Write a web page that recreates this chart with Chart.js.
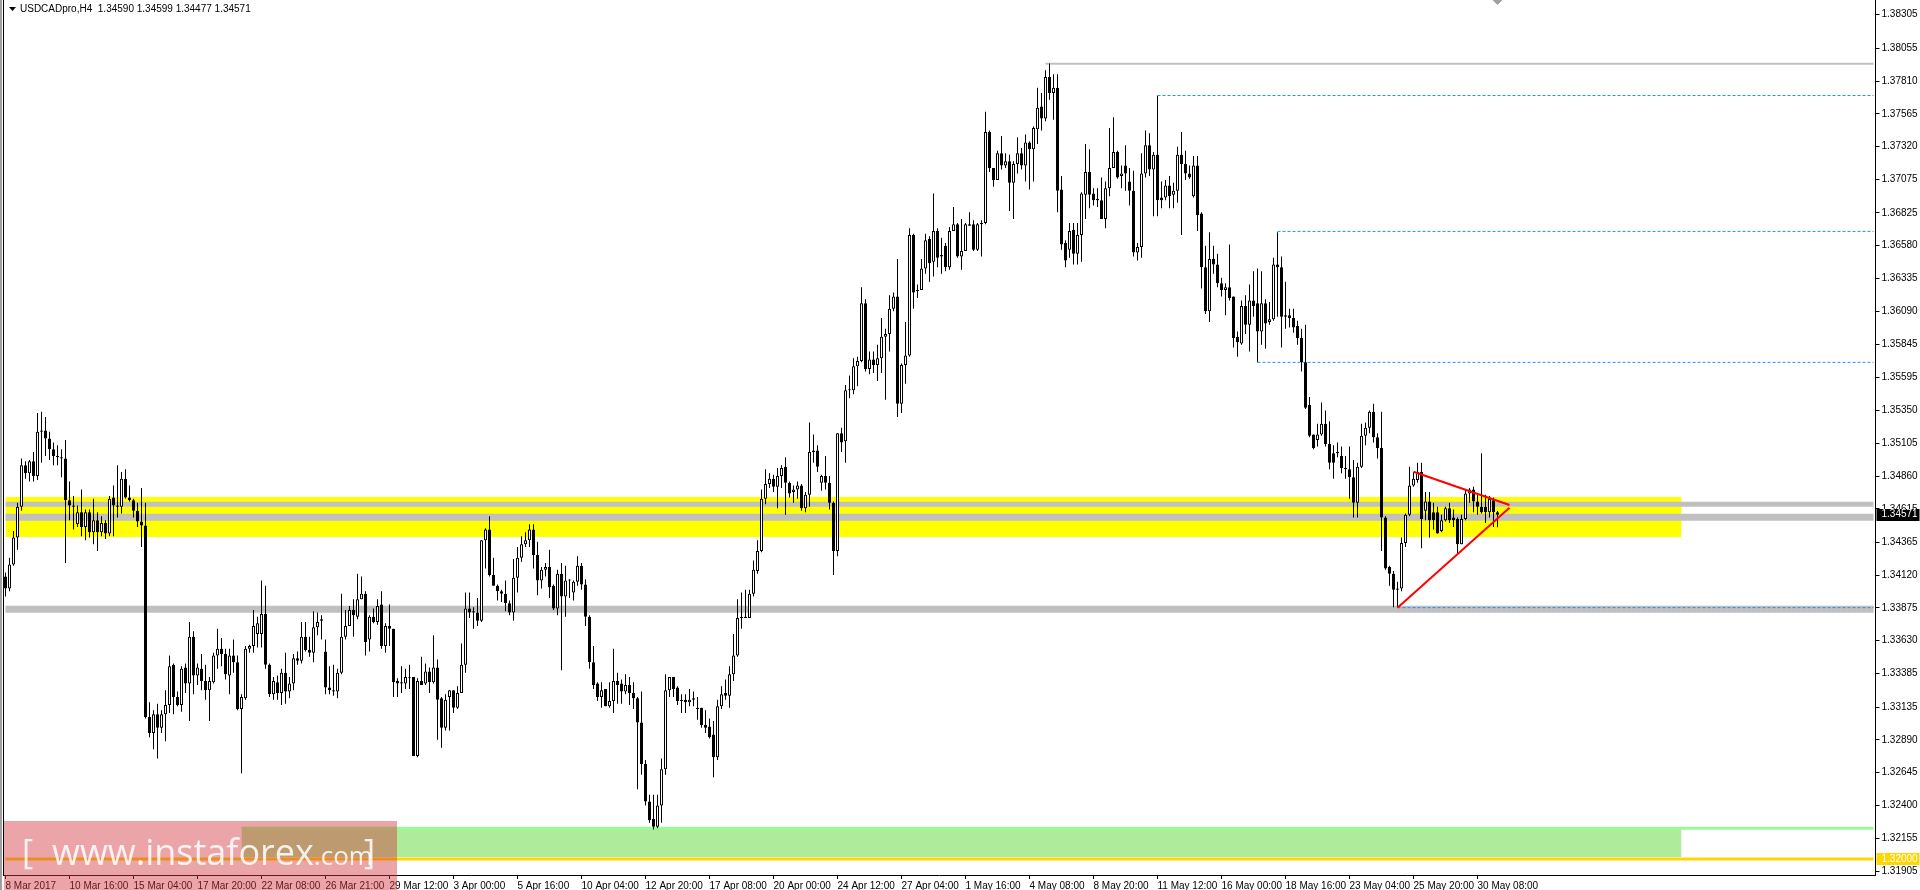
<!DOCTYPE html>
<html>
<head>
<meta charset="utf-8">
<title>USDCADpro,H4</title>
<script src="https://cdn.jsdelivr.net/npm/chart.js@4.4.1/dist/chart.umd.min.js"></script>
<style>
html, body { margin: 0; padding: 0; background: #fff; overflow: hidden; }
</style>
</head>
<body>
<canvas id="grafico" width="1920" height="890"></canvas>
<script>
// Velas H4 USDCAD (8 Mar - 31 May 2017)
const titulo = 'USDCADpro,H4  1.34590 1.34599 1.34477 1.34571';

const etiquetasTiempo = ['8 Mar 2017', '10 Mar 16:00', '15 Mar 04:00', '17 Mar 20:00', '22 Mar 08:00',
    '26 Mar 21:00', '29 Mar 12:00', '3 Apr 00:00', '5 Apr 16:00', '10 Apr 04:00', '12 Apr 20:00',
    '17 Apr 08:00', '20 Apr 00:00', '24 Apr 12:00', '27 Apr 04:00', '1 May 16:00', '4 May 08:00',
    '8 May 20:00', '11 May 12:00', '16 May 00:00', '18 May 16:00', '23 May 04:00', '25 May 20:00',
    '30 May 08:00'];

const etiquetasPrecio = [1.38305, 1.38055, 1.37810, 1.37565, 1.37320, 1.37075, 1.36825, 1.36580,
    1.36335, 1.36090, 1.35845, 1.35595, 1.35350, 1.35105, 1.34860, 1.34615, 1.34365, 1.34120,
    1.33875, 1.33630, 1.33385, 1.33135, 1.32890, 1.32645, 1.32400, 1.32155, 1.31905];

const aperturas = [
    1.3411,1.3402,1.3420,1.3440,1.3463,1.3494,1.3488,1.3497,1.3486,1.3519,
    1.3520,1.3514,1.3506,1.3501,1.3500,1.3499,1.3468,1.3464,1.3450,1.3459,
    1.3448,1.3459,1.3444,1.3453,1.3444,1.3451,1.3443,1.3470,1.3464,1.3463,
    1.3484,1.3470,1.3468,1.3460,1.3452,1.3449,1.3306,1.3294,1.3308,1.3298,
    1.3308,1.3315,1.3345,1.3321,1.3315,1.3343,1.3331,1.3366,1.3337,1.3342,
    1.3333,1.3326,1.3332,1.3352,1.3357,1.3353,1.3337,1.3352,1.3347,1.3312,
    1.3320,1.3357,1.3359,1.3368,1.3368,1.3383,1.3345,1.3323,1.3332,1.3324,
    1.3339,1.3325,1.3331,1.3350,1.3348,1.3366,1.3356,1.3354,1.3373,1.3379,
    1.3355,1.3328,1.3326,1.3325,1.3339,1.3366,1.3374,1.3386,1.3381,1.3394,
    1.3398,1.3364,1.3381,1.3377,1.3390,1.3359,1.3374,1.3372,1.3333,1.3332,
    1.3331,1.3335,1.3336,1.3277,1.3333,1.3331,1.3340,1.3332,1.3343,1.3320,
    1.3298,1.3321,1.3326,1.3313,1.3324,1.3345,1.3387,1.3385,1.3384,1.3378,
    1.3438,1.3446,1.3412,1.3404,1.3400,1.3398,1.3391,1.3384,1.3410,1.3425,
    1.3435,1.3438,1.3446,1.3427,1.3408,1.3416,1.3418,1.3404,1.3387,1.3413,
    1.3396,1.3408,1.3399,1.3407,1.3419,1.3405,1.3381,1.3347,1.3331,1.3321,
    1.3327,1.3314,1.3318,1.3333,1.3331,1.3325,1.3330,1.3324,1.3320,1.3302,
    1.3271,1.3243,1.3230,1.3224,1.3240,1.3267,1.3326,1.3336,1.3328,1.3319,
    1.3319,1.3317,1.3320,1.3312,1.3313,1.3300,1.3299,1.3293,1.3276,1.3314,
    1.3324,1.3322,1.3338,1.3352,1.3380,1.3380,1.3380,1.3398,1.3415,1.3430,
    1.3469,1.3480,1.3484,1.3478,1.3486,1.3493,1.3481,1.3474,1.3476,1.3479,
    1.3462,1.3472,1.3504,1.3505,1.3481,1.3486,1.3481,1.3466,1.3430,1.3518,
    1.3512,1.3550,1.3550,1.3568,1.3572,1.3615,1.3566,1.3573,1.3569,1.3574,
    1.3590,1.3592,1.3611,1.3620,1.3540,1.3569,1.3576,1.3666,1.3624,1.3625,
    1.3641,1.3663,1.3646,1.3669,1.3651,1.3658,1.3642,1.3669,1.3674,1.3650,
    1.3654,1.3674,1.3674,1.3655,1.3674,1.3675,1.3743,1.3716,1.3707,1.3727,
    1.3718,1.3721,1.3705,1.3719,1.3727,1.3718,1.3735,1.3730,1.3745,1.3762,
    1.3753,1.3784,1.3772,1.3776,1.3700,1.3660,1.3655,1.3670,1.3652,1.3666,
    1.3696,1.3713,1.3697,1.3693,1.3692,1.3678,1.3701,1.3716,1.3728,1.3710,
    1.3718,1.3706,1.3699,1.3653,1.3657,1.3712,1.3733,1.3715,1.3726,1.3694,
    1.3694,1.3703,1.3696,1.3699,1.3726,1.3719,1.3712,1.3695,1.3718,1.3682,
    1.3642,1.3609,1.3648,1.3644,1.3630,1.3625,1.3627,1.3620,1.3590,1.3585,
    1.3613,1.3599,1.3617,1.3615,1.3594,1.3615,1.3601,1.3603,1.3644,1.3642,
    1.3606,1.3606,1.3604,1.3598,1.3589,1.3571,1.3539,1.3517,1.3513,1.3517,
    1.3525,1.3510,1.3503,1.3504,1.3501,1.3492,1.3491,1.3485,1.3466,1.3493,
    1.3516,1.3522,1.3534,1.3515,1.3507,1.3455,1.3418,1.3413,1.3401,1.3402,
    1.3436,1.3457,1.3479,1.3483,1.3489,1.3460,1.3467,1.3459,1.3459,1.3445,
    1.3453,1.3462,1.3455,1.3454,1.3435,1.3454,1.3473,1.3476,1.3467,1.3463,
    1.3463,1.3459,1.3468,1.34590];

const maximos = [
    1.3414,1.3425,1.3445,1.3466,1.3499,1.3497,1.3498,1.3504,1.3533,1.3534,
    1.3530,1.3519,1.3511,1.3509,1.3506,1.3513,1.3482,1.3471,1.3464,1.3476,
    1.3461,1.3461,1.3469,1.3459,1.3456,1.3453,1.3471,1.3479,1.3494,1.3489,
    1.3491,1.3479,1.3469,1.3466,1.3477,1.3466,1.3317,1.3311,1.3316,1.3311,
    1.3326,1.3352,1.3346,1.3325,1.3344,1.3346,1.3377,1.3370,1.3346,1.3353,
    1.3345,1.3336,1.3354,1.3372,1.3365,1.3357,1.3357,1.3364,1.3352,1.3323,
    1.3359,1.3360,1.3386,1.3381,1.3408,1.3404,1.3346,1.3336,1.3337,1.3342,
    1.3354,1.3336,1.3353,1.3355,1.3377,1.3377,1.3366,1.3385,1.3384,1.3382,
    1.3364,1.3344,1.3345,1.3342,1.3398,1.3386,1.3389,1.3394,1.3413,1.3411,
    1.3400,1.3382,1.3387,1.3394,1.3400,1.3376,1.3390,1.3372,1.3335,1.3344,
    1.3342,1.3345,1.3336,1.3335,1.3351,1.3346,1.3343,1.3367,1.3349,1.3321,
    1.3323,1.3326,1.3326,1.3329,1.3361,1.3399,1.3399,1.3388,1.3395,1.3438,
    1.3447,1.3456,1.3425,1.3405,1.3401,1.3408,1.3393,1.3424,1.3433,1.3441,
    1.3444,1.3450,1.3450,1.3437,1.3418,1.3421,1.3431,1.3405,1.3416,1.3421,
    1.3419,1.3409,1.3408,1.3426,1.3421,1.3409,1.3382,1.3359,1.3332,1.3332,
    1.3327,1.3332,1.3357,1.3339,1.3334,1.3338,1.3336,1.3332,1.3321,1.3325,
    1.3274,1.3248,1.3248,1.3248,1.3275,1.3338,1.3336,1.3336,1.3329,1.3323,
    1.3323,1.3327,1.3325,1.3321,1.3313,1.3311,1.3305,1.3303,1.3319,1.3329,
    1.3334,1.3344,1.3368,1.3394,1.3399,1.3401,1.3401,1.3423,1.3438,1.3476,
    1.3491,1.3488,1.3487,1.3492,1.3494,1.3500,1.3482,1.3479,1.3482,1.3480,
    1.3474,1.3526,1.3517,1.3509,1.3487,1.3501,1.3486,1.3467,1.3518,1.3522,
    1.3554,1.3561,1.3574,1.3575,1.3627,1.3618,1.3579,1.3579,1.3584,1.3604,
    1.3596,1.3621,1.3623,1.3648,1.3570,1.3601,1.3671,1.3667,1.3629,1.3648,
    1.3667,1.3665,1.3697,1.3671,1.3664,1.3660,1.3672,1.3687,1.3675,1.3678,
    1.3675,1.3683,1.3677,1.3675,1.3677,1.3758,1.3744,1.3716,1.3729,1.3740,
    1.3727,1.3726,1.3721,1.3739,1.3731,1.3741,1.3736,1.3747,1.3776,1.3772,
    1.3789,1.3794,1.3786,1.3786,1.3710,1.3662,1.3675,1.3675,1.3675,1.3698,
    1.3734,1.3730,1.3701,1.3701,1.3709,1.3706,1.3746,1.3754,1.3729,1.3718,
    1.3733,1.3716,1.3714,1.3660,1.3727,1.3744,1.3742,1.3728,1.3770,1.3706,
    1.3707,1.3710,1.3705,1.3732,1.3743,1.3729,1.3718,1.3725,1.3725,1.3683,
    1.3658,1.3668,1.3658,1.3652,1.3634,1.3630,1.3659,1.3620,1.3594,1.3617,
    1.3621,1.3629,1.3639,1.3641,1.3639,1.3618,1.3616,1.3649,1.3668,1.3650,
    1.3631,1.3611,1.3611,1.3602,1.3596,1.3599,1.3545,1.3517,1.3525,1.3541,
    1.3535,1.3527,1.3509,1.3511,1.3508,1.3501,1.3508,1.3498,1.3496,1.3525,
    1.3526,1.3535,1.3540,1.3518,1.3534,1.3456,1.3419,1.3415,1.3407,1.3440,
    1.3458,1.3493,1.3489,1.3496,1.3496,1.3474,1.3474,1.3466,1.3463,1.3457,
    1.3463,1.3466,1.3461,1.3455,1.3457,1.3476,1.3477,1.3478,1.3472,1.3503,
    1.3472,1.3471,1.3470,1.34599];

const minimos = [
    1.3396,1.3400,1.3419,1.3431,1.3460,1.3484,1.3482,1.3482,1.3483,1.3496,
    1.3501,1.3498,1.3494,1.3494,1.3485,1.3421,1.3453,1.3446,1.3448,1.3441,
    1.3438,1.3440,1.3435,1.3430,1.3441,1.3439,1.3441,1.3441,1.3455,1.3458,
    1.3469,1.3467,1.3455,1.3448,1.3433,1.3305,1.3291,1.3282,1.3275,1.3294,
    1.3288,1.3309,1.3308,1.3314,1.3310,1.3324,1.3303,1.3323,1.3330,1.3326,
    1.3319,1.3303,1.3331,1.3342,1.3344,1.3334,1.3323,1.3339,1.3311,1.3264,
    1.3319,1.3354,1.3354,1.3358,1.3358,1.3342,1.3321,1.3319,1.3319,1.3315,
    1.3316,1.3320,1.3326,1.3345,1.3346,1.3355,1.3351,1.3347,1.3367,1.3364,
    1.3323,1.3323,1.3322,1.3320,1.3338,1.3364,1.3374,1.3366,1.3379,1.3394,
    1.3352,1.3355,1.3376,1.3375,1.3357,1.3354,1.3359,1.3321,1.3321,1.3324,
    1.3327,1.3327,1.3277,1.3276,1.3330,1.3330,1.3324,1.3331,1.3289,1.3283,
    1.3296,1.3296,1.3309,1.3312,1.3324,1.3339,1.3380,1.3372,1.3374,1.3377,
    1.3417,1.3411,1.3404,1.3393,1.3392,1.3385,1.3382,1.3378,1.3399,1.3422,
    1.3433,1.3433,1.3417,1.3397,1.3402,1.3411,1.3395,1.3386,1.3382,1.3341,
    1.3381,1.3395,1.3393,1.3404,1.3401,1.3374,1.3342,1.3327,1.3318,1.3313,
    1.3314,1.3313,1.3309,1.3316,1.3316,1.3323,1.3315,1.3312,1.3252,1.3263,
    1.3240,1.3227,1.3222,1.3223,1.3227,1.3263,1.3321,1.3321,1.3315,1.3309,
    1.3309,1.3314,1.3314,1.3304,1.3298,1.3294,1.3290,1.3261,1.3274,1.3312,
    1.3319,1.3313,1.3333,1.3351,1.3372,1.3380,1.3380,1.3396,1.3413,1.3429,
    1.3465,1.3477,1.3474,1.3462,1.3477,1.3457,1.3470,1.3466,1.3469,1.3460,
    1.3459,1.3463,1.3496,1.3489,1.3475,1.3476,1.3461,1.3412,1.3426,1.3504,
    1.3496,1.3544,1.3547,1.3553,1.3571,1.3564,1.3562,1.3563,1.3557,1.3563,
    1.3543,1.3579,1.3609,1.3530,1.3533,1.3555,1.3575,1.3611,1.3619,1.3625,
    1.3637,1.3631,1.3635,1.3642,1.3637,1.3639,1.3640,1.3669,1.3649,1.3640,
    1.3654,1.3673,1.3654,1.3654,1.3650,1.3674,1.3713,1.3702,1.3707,1.3715,
    1.3716,1.3684,1.3678,1.3712,1.3715,1.3706,1.3700,1.3706,1.3734,1.3744,
    1.3751,1.3767,1.3752,1.3683,1.3655,1.3642,1.3649,1.3644,1.3644,1.3646,
    1.3678,1.3686,1.3688,1.3687,1.3678,1.3671,1.3695,1.3716,1.3708,1.3701,
    1.3699,1.3688,1.3650,1.3647,1.3649,1.3709,1.3710,1.3680,1.3680,1.3686,
    1.3692,1.3686,1.3686,1.3690,1.3666,1.3707,1.3708,1.3694,1.3669,1.3626,
    1.3607,1.3601,1.3637,1.3627,1.3620,1.3606,1.3617,1.3582,1.3575,1.3584,
    1.3592,1.3579,1.3605,1.3571,1.3584,1.3581,1.3599,1.3602,1.3605,1.3582,
    1.3596,1.3597,1.3593,1.3584,1.3564,1.3536,1.3515,1.3506,1.3508,1.3516,
    1.3508,1.3491,1.3484,1.3500,1.3488,1.3484,1.3469,1.3455,1.3455,1.3492,
    1.3509,1.3518,1.3511,1.3499,1.3430,1.3416,1.3404,1.3388,1.3388,1.3400,
    1.3433,1.3456,1.3478,1.3481,1.3432,1.3453,1.3440,1.3446,1.3443,1.3444,
    1.3452,1.3451,1.3448,1.3428,1.3435,1.3453,1.3466,1.3459,1.3457,1.3458,
    1.3451,1.3455,1.3448,1.34477];

const cierres = [
    1.3402,1.3420,1.3440,1.3463,1.3494,1.3488,1.3497,1.3486,1.3519,1.3520,
    1.3514,1.3506,1.3501,1.3500,1.3499,1.3468,1.3464,1.3463,1.3459,1.3448,
    1.3459,1.3444,1.3453,1.3444,1.3451,1.3443,1.3469,1.3464,1.3463,1.3484,
    1.3470,1.3468,1.3460,1.3452,1.3449,1.3306,1.3294,1.3308,1.3298,1.3308,
    1.3315,1.3344,1.3321,1.3315,1.3342,1.3331,1.3366,1.3337,1.3343,1.3333,
    1.3326,1.3333,1.3352,1.3357,1.3353,1.3338,1.3352,1.3347,1.3312,1.3321,
    1.3357,1.3359,1.3374,1.3376,1.3383,1.3345,1.3323,1.3333,1.3324,1.3339,
    1.3325,1.3331,1.3350,1.3348,1.3366,1.3356,1.3354,1.3373,1.3377,1.3378,
    1.3328,1.3326,1.3325,1.3339,1.3366,1.3374,1.3386,1.3382,1.3394,1.3398,
    1.3362,1.3381,1.3377,1.3389,1.3359,1.3374,1.3372,1.3332,1.3331,1.3331,
    1.3336,1.3335,1.3277,1.3333,1.3330,1.3340,1.3332,1.3343,1.3319,1.3298,
    1.3319,1.3326,1.3313,1.3324,1.3345,1.3387,1.3384,1.3384,1.3378,1.3438,
    1.3446,1.3412,1.3404,1.3400,1.3398,1.3391,1.3384,1.3410,1.3425,1.3435,
    1.3438,1.3446,1.3427,1.3408,1.3416,1.3418,1.3403,1.3387,1.3413,1.3396,
    1.3408,1.3408,1.3407,1.3419,1.3405,1.3381,1.3347,1.3330,1.3321,1.3326,
    1.3314,1.3318,1.3333,1.3330,1.3325,1.3330,1.3324,1.3320,1.3302,1.3271,
    1.3243,1.3229,1.3224,1.3240,1.3267,1.3326,1.3336,1.3327,1.3318,1.3318,
    1.3317,1.3319,1.3319,1.3312,1.3300,1.3298,1.3291,1.3276,1.3314,1.3323,
    1.3322,1.3338,1.3352,1.3380,1.3380,1.3381,1.3398,1.3416,1.3430,1.3469,
    1.3480,1.3484,1.3478,1.3486,1.3492,1.3481,1.3473,1.3476,1.3479,1.3462,
    1.3472,1.3504,1.3505,1.3493,1.3486,1.3481,1.3466,1.3430,1.3518,1.3511,
    1.3550,1.3550,1.3568,1.3572,1.3615,1.3566,1.3573,1.3569,1.3574,1.3590,
    1.3592,1.3611,1.3620,1.3540,1.3569,1.3576,1.3666,1.3623,1.3625,1.3641,
    1.3662,1.3645,1.3669,1.3649,1.3650,1.3642,1.3669,1.3674,1.3650,1.3654,
    1.3674,1.3673,1.3655,1.3674,1.3675,1.3743,1.3716,1.3707,1.3727,1.3718,
    1.3721,1.3705,1.3719,1.3727,1.3718,1.3735,1.3730,1.3746,1.3761,1.3753,
    1.3784,1.3772,1.3776,1.3699,1.3659,1.3647,1.3669,1.3652,1.3666,1.3697,
    1.3713,1.3696,1.3692,1.3692,1.3678,1.3701,1.3716,1.3728,1.3709,1.3712,
    1.3712,1.3699,1.3653,1.3657,1.3712,1.3733,1.3715,1.3726,1.3692,1.3692,
    1.3703,1.3695,1.3699,1.3726,1.3719,1.3712,1.3709,1.3718,1.3681,1.3642,
    1.3609,1.3648,1.3644,1.3630,1.3625,1.3627,1.3619,1.3589,1.3586,1.3613,
    1.3599,1.3617,1.3613,1.3594,1.3615,1.3600,1.3603,1.3644,1.3642,1.3605,
    1.3605,1.3604,1.3597,1.3589,1.3571,1.3537,1.3516,1.3507,1.3517,1.3525,
    1.3510,1.3496,1.3496,1.3503,1.3492,1.3491,1.3485,1.3466,1.3493,1.3516,
    1.3522,1.3534,1.3515,1.3507,1.3455,1.3417,1.3413,1.3401,1.3402,1.3436,
    1.3457,1.3479,1.3484,1.3489,1.3454,1.3467,1.3453,1.3453,1.3443,1.3453,
    1.3462,1.3453,1.3453,1.3435,1.3454,1.3473,1.3476,1.3467,1.3463,1.3459,
    1.3459,1.3469,1.3459,1.34571];

// Objetos del grafico (barra, precio)
const bandaAmarilla = [1.34703, 1.34405];
const bandaVerde = [1.32239, 1.32015];
const lineaVerde = 1.32229;
const nivelDorado = 1.32000;
const nivelesGrises = [1.34649, 1.34552, 1.33865];
const maximoMayo = 1.37939;
const nivelesPunteados = [1.37702, 1.36687, 1.35709, 1.33877];
const barrasPunteadas = [288, 318, 313, 348];
const trianguloSuperior = [[352, 1.34892], [376, 1.34644]];
const trianguloInferior = [[348, 1.33877], [376, 1.34624]];

const totalBarras = 468;
const ultima = totalBarras - 1;
const fuente = "'Liberation Sans', Arial, sans-serif";

function indices() {
    return Array.from({length: totalBarras}, (_, i) => i);
}

function linea(puntos, color, grosor, guiones, orden) {
    return {
        type: 'line',
        data: puntos.map(p => ({x: p[0], y: p[1]})),
        borderColor: color,
        borderWidth: grosor,
        borderDash: guiones,
        pointRadius: 0,
        fill: false,
        order: orden
    };
}

function horizontal(desde, precio, color, grosor, guiones, orden) {
    return linea([[desde, precio], [ultima, precio]], color, grosor, guiones, orden);
}

function banda(desde, hasta, precios, color, orden) {
    return {
        type: 'line',
        data: [{x: desde, y: precios[0]}, {x: hasta, y: precios[0]}],
        borderWidth: 0,
        borderColor: 'rgba(0,0,0,0)',
        pointRadius: 0,
        fill: {value: precios[1]},
        backgroundColor: color,
        order: orden
    };
}

function etiquetaPrecio(ctx, eje, precio, fondo, texto, x) {
    const y = eje.getPixelForValue(precio);
    ctx.fillStyle = fondo;
    ctx.fillRect(x + 1, Math.round(y) - 6, 43, 12);
    ctx.fillStyle = texto;
    ctx.font = '10px ' + fuente;
    ctx.textAlign = 'left';
    ctx.textBaseline = 'middle';
    ctx.fillText(precio.toFixed(5), x + 6, y);
}

const decoracion = {
    id: 'decoracion',
    beforeDraw(chart) {
        const ctx = chart.ctx;
        ctx.save();
        ctx.fillStyle = '#ffffff';
        ctx.fillRect(0, 0, chart.width, chart.height);
        ctx.restore();
    },
    afterDraw(chart) {
        const ctx = chart.ctx;
        const area = chart.chartArea;
        const ejeX = chart.scales.x;
        const ejeY = chart.scales.y;
        ctx.save();
        // marco
        ctx.fillStyle = '#a0a0a0';
        ctx.fillRect(0, 0, 2, chart.height);
        ctx.fillStyle = '#000000';
        ctx.fillRect(3, 0, 1, area.bottom);
        // titulo
        ctx.beginPath();
        ctx.moveTo(9, 7); ctx.lineTo(16, 7); ctx.lineTo(12.5, 11);
        ctx.closePath();
        ctx.fill();
        ctx.font = '10px ' + fuente;
        ctx.textBaseline = 'middle';
        ctx.fillText(titulo, 20, 9);
        // marca de desplazamiento
        const xs = ejeX.getPixelForValue(cierres.length - 1);
        ctx.fillStyle = '#a0a0a0';
        ctx.beginPath();
        ctx.moveTo(xs - 5, 0); ctx.lineTo(xs + 5, 0); ctx.lineTo(xs, 5);
        ctx.closePath();
        ctx.fill();
        // etiquetas del eje
        etiquetaPrecio(ctx, ejeY, nivelDorado, '#ffd700', '#ffffff', area.right);
        etiquetaPrecio(ctx, ejeY, cierres[cierres.length - 1], '#000000', '#ffffff', area.right);
        // marca de agua
        ctx.fillStyle = 'rgba(211, 55, 62, 0.45)';
        ctx.fillRect(4, 821, 393, chart.height - 821);
        ctx.fillStyle = 'rgba(255, 255, 255, 0.85)';
        ctx.textBaseline = 'alphabetic';
        ctx.font = '34px "Open Sans", sans-serif';
        ctx.fillText('[', 22, 864);
        ctx.fillText(']', 364, 864);
        ctx.font = '36px "Open Sans", sans-serif';
        ctx.fillText('www.instaforex', 52, 865);
        const ancho = ctx.measureText('www.instaforex').width;
        ctx.font = '26px "Open Sans", sans-serif';
        ctx.fillText('.com', 52 + ancho, 865);
        ctx.restore();
    }
};

const conjuntos = [
    banda(0, 419, bandaAmarilla, '#ffff00', 9),
    banda(59, 419, bandaVerde, '#aeeb9a', 9),
    horizontal(59, lineaVerde, '#98fb98', 3, [], 8),
    horizontal(0, nivelDorado, '#ffd700', 3, [], 8),
    horizontal(0, nivelesGrises[0], '#c0c0c0', 5, [], 7),
    horizontal(0, nivelesGrises[1], '#c0c0c0', 7, [], 7),
    horizontal(0, nivelesGrises[2], '#c0c0c0', 7, [], 7),
    horizontal(260, maximoMayo, '#c0c0c0', 2, [], 7),
    horizontal(barrasPunteadas[0], nivelesPunteados[0], '#1e90ff', 1, [3, 2], 6),
    horizontal(barrasPunteadas[1], nivelesPunteados[1], '#1e90ff', 1, [3, 2], 6),
    horizontal(barrasPunteadas[2], nivelesPunteados[2], '#1e90ff', 1, [3, 2], 6),
    horizontal(barrasPunteadas[3], nivelesPunteados[3], '#1e90ff', 1, [3, 2], 6),
    {
        type: 'bar',
        data: minimos.map((l, i) => [l, maximos[i]]),
        backgroundColor: '#000000',
        borderWidth: 0,
        barThickness: 1,
        grouped: false,
        inflateAmount: 0,
        order: 2
    },
    {
        type: 'bar',
        data: aperturas.map((o, i) => [o, cierres[i]]),
        backgroundColor: aperturas.map((o, i) => cierres[i] >= o ? '#ffffff' : '#000000'),
        borderColor: '#000000',
        borderWidth: 1,
        borderSkipped: false,
        barThickness: 3,
        minBarLength: 1,
        grouped: false,
        inflateAmount: 0,
        order: 1
    },
    linea(trianguloSuperior, '#ff0000', 2, [], 0),
    linea(trianguloInferior, '#ff0000', 2, [], 0)
];

let grafico = new Chart(document.getElementById('grafico').getContext('2d'), {
    type: 'bar',
    data: {
        labels: indices(),
        datasets: conjuntos
    },
    options: {
        responsive: false,
        animation: false,
        devicePixelRatio: 1,
        events: [],
        layout: {
            autoPadding: false,
            padding: {left: 3.5, right: 0, top: 0, bottom: 0}
        },
        plugins: {
            legend: {display: false},
            tooltip: {enabled: false}
        },
        scales: {
            x: {
                type: 'category',
                offset: true,
                grid: {drawOnChartArea: false, drawTicks: true, tickLength: 4, offset: false, color: '#000000'},
                border: {display: true, color: '#000000'},
                ticks: {
                    autoSkip: false,
                    maxRotation: 0,
                    align: 'start',
                    padding: 1,
                    color: '#000000',
                    font: {family: fuente, size: 10},
                    callback: v => etiquetasTiempo[v / 16]
                },
                afterBuildTicks: s => {
                    s.ticks = s.ticks.filter(t => t.value % 16 === 0 && t.value / 16 < etiquetasTiempo.length);
                },
                afterFit: s => {
                    s.height = 15;
                    s.paddingLeft = 0;
                    s.paddingRight = 0;
                }
            },
            y: {
                type: 'linear',
                position: 'right',
                min: 1.318804,
                max: 1.384151,
                grid: {drawOnChartArea: false, drawTicks: true, tickLength: 4, color: '#000000'},
                border: {display: true, color: '#000000'},
                ticks: {
                    autoSkip: false,
                    padding: 2,
                    color: '#000000',
                    font: {family: fuente, size: 10},
                    callback: v => v.toFixed(5)
                },
                afterBuildTicks: s => {
                    s.ticks = etiquetasPrecio.map(v => ({value: v}));
                },
                afterFit: s => {
                    s.width = 44.5;
                    s.paddingTop = 0;
                    s.paddingBottom = 0;
                }
            }
        }
    },
    plugins: [decoracion]
});
</script>
</body>
</html>
